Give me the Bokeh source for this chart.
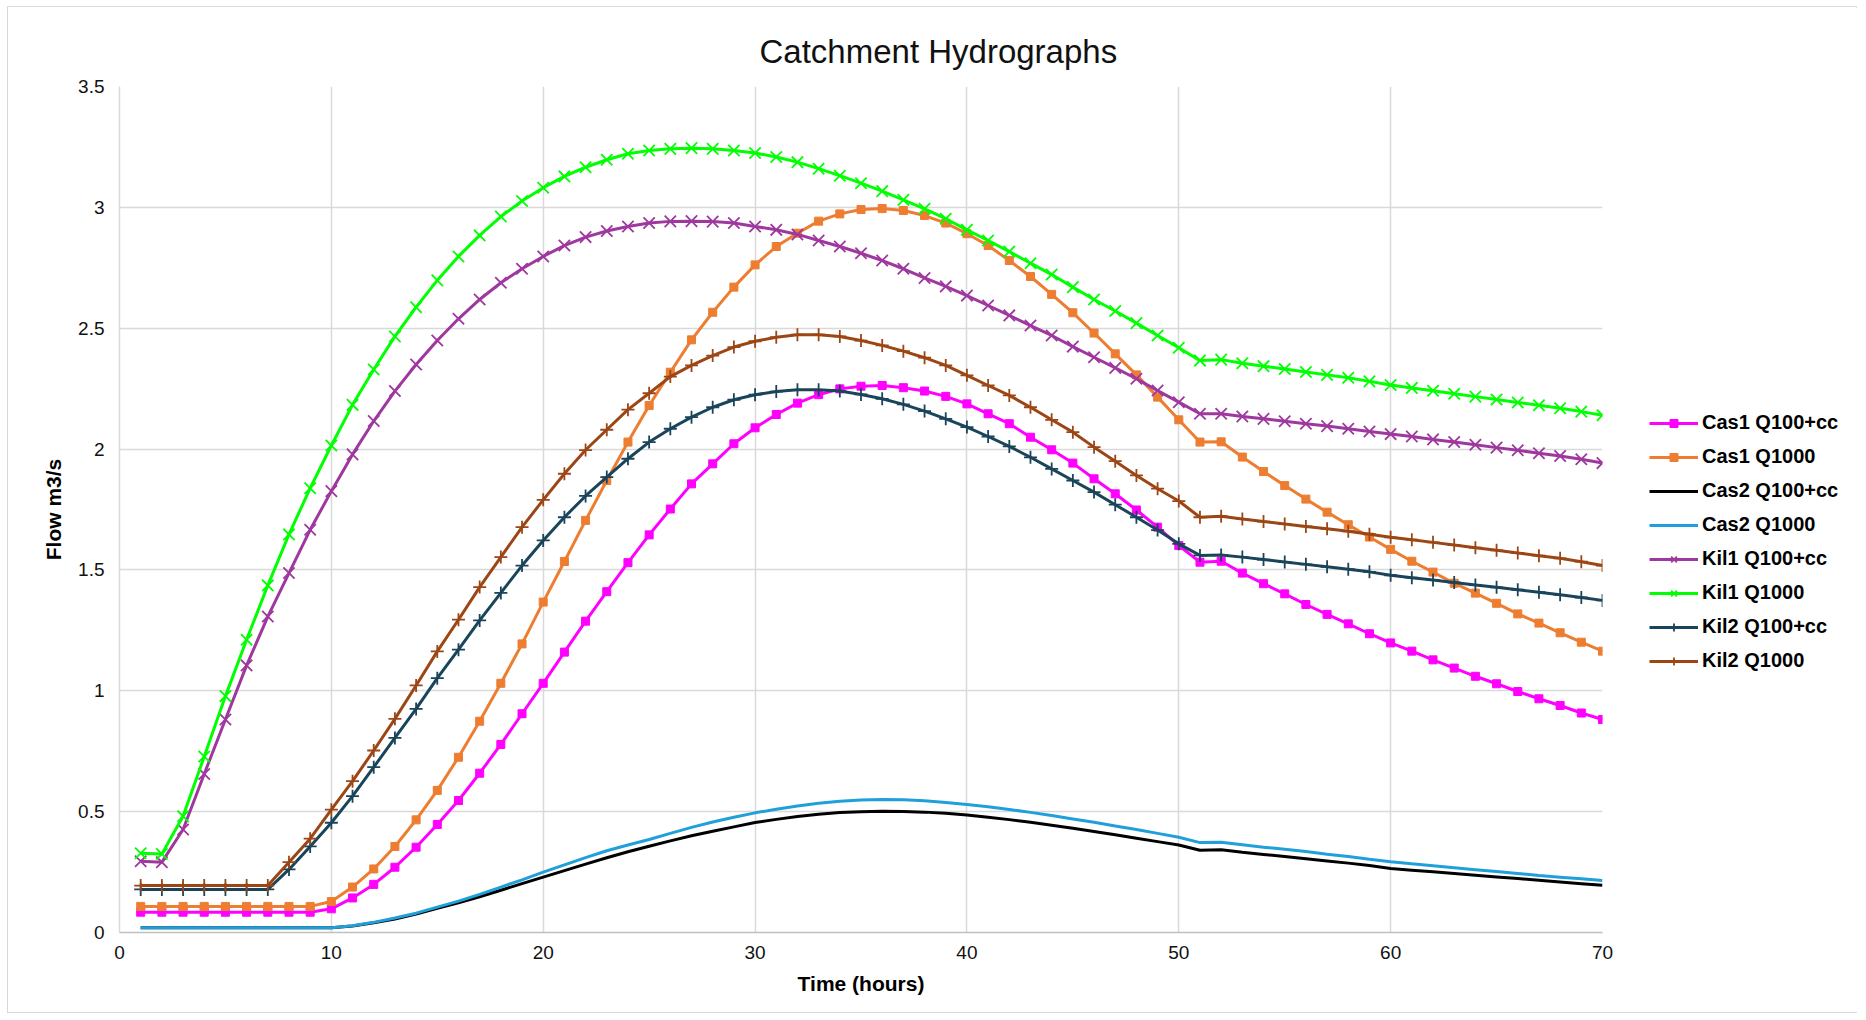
from bokeh.plotting import figure
from bokeh.layouts import row
from bokeh.models import Legend, LegendItem, FixedTicker, NumeralTickFormatter, Range1d
from bokeh.embed import file_html
from bokeh.resources import INLINE

# ---------------- data ----------------
hours = list(range(1, 71))

x_ticks = [0, 10, 20, 30, 40, 50, 60, 70]
y_ticks = [0, 0.5, 1, 1.5, 2, 2.5, 3, 3.5]

series_names = ["Cas1 Q100+cc", "Cas1 Q1000", "Cas2 Q100+cc", "Cas2 Q1000",
                "Kil1 Q100+cc", "Kil1 Q1000", "Kil2 Q100+cc", "Kil2 Q1000"]

cas1_q100cc = [0.084, 0.084, 0.084, 0.084, 0.084, 0.084, 0.084, 0.084, 0.084, 0.098,
               0.143, 0.199, 0.270, 0.353, 0.447, 0.546, 0.659, 0.778, 0.905, 1.031,
               1.160, 1.288, 1.410, 1.530, 1.645, 1.752, 1.856, 1.939, 2.022, 2.088,
               2.143, 2.190, 2.225, 2.249, 2.260, 2.263, 2.254, 2.240, 2.218, 2.187,
               2.146, 2.105, 2.049, 1.997, 1.942, 1.877, 1.815, 1.748, 1.677, 1.601,
               1.532, 1.536, 1.487, 1.443, 1.401, 1.357, 1.316, 1.277, 1.236, 1.198,
               1.164, 1.128, 1.094, 1.060, 1.029, 0.997, 0.967, 0.939, 0.908, 0.881]

cas1_q1000 = [0.108, 0.108, 0.108, 0.108, 0.108, 0.108, 0.108, 0.108, 0.108, 0.128,
              0.188, 0.263, 0.356, 0.466, 0.588, 0.725, 0.874, 1.031, 1.194, 1.367,
              1.535, 1.705, 1.870, 2.029, 2.180, 2.318, 2.452, 2.566, 2.670, 2.762,
              2.838, 2.893, 2.943, 2.973, 2.991, 2.995, 2.987, 2.966, 2.935, 2.891,
              2.842, 2.780, 2.714, 2.640, 2.564, 2.480, 2.394, 2.307, 2.215, 2.121,
              2.029, 2.030, 1.967, 1.907, 1.849, 1.793, 1.739, 1.687, 1.636, 1.585,
              1.536, 1.491, 1.445, 1.404, 1.362, 1.318, 1.280, 1.240, 1.201, 1.164]

cas2_q100cc = [0.020, 0.020, 0.020, 0.020, 0.020, 0.020, 0.020, 0.020, 0.020, 0.020,
               0.027, 0.040, 0.056, 0.076, 0.100, 0.123, 0.148, 0.175, 0.202, 0.229,
               0.256, 0.283, 0.309, 0.334, 0.357, 0.379, 0.400, 0.419, 0.437, 0.455,
               0.468, 0.480, 0.489, 0.496, 0.500, 0.502, 0.501, 0.498, 0.493, 0.486,
               0.477, 0.467, 0.456, 0.444, 0.431, 0.418, 0.404, 0.390, 0.376, 0.362,
               0.340, 0.342, 0.332, 0.323, 0.314, 0.305, 0.296, 0.287, 0.277, 0.265,
               0.258, 0.251, 0.244, 0.237, 0.230, 0.223, 0.216, 0.209, 0.202, 0.195]

cas2_q1000 = [0.020, 0.020, 0.020, 0.020, 0.020, 0.020, 0.020, 0.020, 0.020, 0.020,
              0.028, 0.042, 0.060, 0.080, 0.105, 0.130, 0.158, 0.188, 0.218, 0.250,
              0.280, 0.310, 0.338, 0.362, 0.385, 0.410, 0.435, 0.457, 0.477, 0.495,
              0.510, 0.523, 0.535, 0.543, 0.548, 0.550, 0.549, 0.545, 0.538, 0.530,
              0.520, 0.509, 0.497, 0.484, 0.470, 0.456, 0.441, 0.426, 0.410, 0.394,
              0.372, 0.373, 0.363, 0.353, 0.344, 0.335, 0.324, 0.314, 0.303, 0.293,
              0.284, 0.276, 0.268, 0.260, 0.252, 0.244, 0.236, 0.229, 0.222, 0.215]

kil1_q100cc = [0.295, 0.291, 0.426, 0.656, 0.881, 1.105, 1.307, 1.487, 1.666, 1.826,
               1.978, 2.116, 2.240, 2.350, 2.449, 2.539, 2.619, 2.688, 2.746, 2.797,
               2.842, 2.877, 2.902, 2.921, 2.935, 2.942, 2.943, 2.941, 2.935, 2.921,
               2.907, 2.888, 2.863, 2.838, 2.810, 2.780, 2.746, 2.708, 2.673, 2.635,
               2.594, 2.553, 2.511, 2.470, 2.424, 2.380, 2.336, 2.291, 2.242, 2.194,
               2.146, 2.146, 2.135, 2.125, 2.115, 2.105, 2.095, 2.084, 2.073, 2.062,
               2.052, 2.040, 2.029, 2.018, 2.006, 1.995, 1.983, 1.971, 1.958, 1.942]

kil1_q1000 = [0.328, 0.325, 0.481, 0.728, 0.978, 1.211, 1.436, 1.647, 1.838, 2.015,
              2.183, 2.329, 2.466, 2.587, 2.698, 2.797, 2.884, 2.962, 3.026, 3.081,
              3.128, 3.166, 3.197, 3.222, 3.235, 3.242, 3.245, 3.242, 3.235, 3.225,
              3.208, 3.187, 3.160, 3.131, 3.100, 3.067, 3.031, 2.994, 2.953, 2.907,
              2.863, 2.817, 2.769, 2.722, 2.670, 2.619, 2.571, 2.521, 2.470, 2.419,
              2.366, 2.370, 2.355, 2.343, 2.331, 2.319, 2.307, 2.295, 2.280, 2.265,
              2.253, 2.241, 2.229, 2.217, 2.205, 2.193, 2.181, 2.169, 2.155, 2.140]

kil2_q100cc = [0.178, 0.178, 0.178, 0.178, 0.178, 0.178, 0.178, 0.261, 0.356, 0.454,
               0.564, 0.684, 0.805, 0.925, 1.052, 1.170, 1.291, 1.405, 1.518, 1.622,
               1.718, 1.806, 1.884, 1.960, 2.029, 2.084, 2.132, 2.173, 2.204, 2.225,
               2.238, 2.245, 2.245, 2.240, 2.226, 2.208, 2.185, 2.157, 2.125, 2.091,
               2.052, 2.011, 1.966, 1.918, 1.870, 1.822, 1.770, 1.718, 1.665, 1.608,
               1.560, 1.562, 1.553, 1.543, 1.533, 1.523, 1.513, 1.503, 1.492, 1.478,
               1.468, 1.458, 1.448, 1.438, 1.428, 1.418, 1.408, 1.397, 1.386, 1.374]

kil2_q1000 = [0.194, 0.194, 0.194, 0.194, 0.194, 0.194, 0.194, 0.291, 0.388, 0.508,
              0.626, 0.753, 0.884, 1.022, 1.163, 1.294, 1.429, 1.553, 1.677, 1.790,
              1.898, 1.996, 2.080, 2.163, 2.231, 2.300, 2.346, 2.387, 2.422, 2.446,
              2.463, 2.473, 2.473, 2.466, 2.449, 2.429, 2.405, 2.378, 2.346, 2.305,
              2.263, 2.222, 2.173, 2.121, 2.070, 2.008, 1.950, 1.891, 1.836, 1.785,
              1.718, 1.722, 1.711, 1.700, 1.690, 1.680, 1.670, 1.660, 1.648, 1.635,
              1.625, 1.614, 1.603, 1.592, 1.581, 1.570, 1.559, 1.548, 1.534, 1.518]

series_values = [cas1_q100cc, cas1_q1000, cas2_q100cc, cas2_q1000,
                 kil1_q100cc, kil1_q1000, kil2_q100cc, kil2_q1000]

# ---------------- styles ----------------
colors = ["#FF00FF", "#ED7D31", "#000000", "#1FA0DA",
          "#9E389E", "#00FF00", "#1A4459", "#9C4615"]
markers = ["square", "square", None, None, "x", "x", "cross", "cross"]
msizes = [8, 8, 0, 0, 16, 16, 13, 13]

FONT = "Liberation Sans"
H = 1005

p = figure(width=1641, height=H, output_backend="svg", toolbar_location=None,
           x_range=Range1d(0, 70), y_range=Range1d(0, 3.5),
           min_border_left=111, min_border_right=47, min_border_top=79,
           min_border_bottom=80, title="Catchment Hydrographs")
p.outline_line_color = None
p.background_fill_color = "white"
p.border_fill_color = "white"

p.title.text_font = FONT
p.title.text_font_size = "33px"
p.title.text_font_style = "normal"
p.title.text_color = "#111111"
p.title.align = "left"
p.title.offset = 640
p.title.standoff = 34

p.xaxis.ticker = FixedTicker(ticks=x_ticks)
p.yaxis.ticker = FixedTicker(ticks=y_ticks)
p.xgrid.ticker = FixedTicker(ticks=x_ticks)
p.ygrid.ticker = FixedTicker(ticks=y_ticks)
p.yaxis.formatter = NumeralTickFormatter(format="0.[0]")
p.xaxis.formatter = NumeralTickFormatter(format="0")

for g in (p.xgrid, p.ygrid):
    g.grid_line_color = "#D9D9D9"
    g.grid_line_width = 1.5

for ax in (p.xaxis, p.yaxis):
    ax.major_tick_line_color = None
    ax.minor_tick_line_color = None
    ax.major_label_text_font = FONT
    ax.major_label_text_font_size = "19px"
    ax.major_label_text_color = "#111111"
    ax.axis_label_text_font = FONT
    ax.axis_label_text_font_size = "21px"
    ax.axis_label_text_font_style = "bold"
    ax.axis_label_text_color = "#000000"
p.xaxis.axis_line_color = "#BFBFBF"
p.xaxis.axis_line_width = 1.5
p.yaxis.axis_line_color = "#D9D9D9"
p.yaxis.axis_line_width = 1.5
p.xaxis.axis_label = "Time (hours)"
p.yaxis.axis_label = "Flow m3/s"
p.xaxis.major_label_standoff = 7
p.yaxis.major_label_standoff = 9
p.xaxis.axis_label_standoff = 10
p.yaxis.axis_label_standoff = 10

# legend panel: a second, axis-less figure to the right of the plot area.
# Its ranges exclude the data, so its renderers only serve as legend glyphs.
pl = figure(width=1850 - 1641, height=H, output_backend="svg", toolbar_location=None,
            x_range=Range1d(-3, -2), y_range=Range1d(-3, -2),
            min_border_left=0, min_border_right=0, min_border_top=0, min_border_bottom=0)
pl.xaxis.visible = False
pl.yaxis.visible = False
pl.xgrid.visible = False
pl.ygrid.visible = False
pl.outline_line_color = None
pl.background_fill_color = "white"
pl.border_fill_color = "white"

items = []
for name, vals, col, mk, ms in zip(series_names, series_values, colors, markers, msizes):
    p.line(hours, vals, line_color=col, line_width=3)
    rends = [pl.line(hours, vals, line_color=col, line_width=3)]
    if mk is not None:
        if mk == "square":
            kw = dict(marker=mk, size=ms, fill_color=col, line_color=col, line_width=1)
        else:
            kw = dict(marker=mk, size=ms, fill_color=None, line_color=col, line_width=1.8)
        p.scatter(hours, vals, **kw)
        rends.append(pl.scatter(hours, vals, **kw))
    items.append(LegendItem(label=name, renderers=rends))

legend = Legend(items=items, location=(0, 260), orientation="vertical",
                border_line_color=None, background_fill_alpha=0, padding=0, margin=0,
                spacing=11, glyph_width=49, glyph_height=20, label_height=20,
                label_standoff=4, label_text_font=FONT, label_text_font_size="20px",
                label_text_font_style="bold", label_text_color="#000000")
pl.add_layout(legend, "center")

layout = row(p, pl, spacing=0)
layout.styles = {"border": "1px solid #D9D9D9", "margin-left": "7px", "margin-top": "6px",
                 "width": "1850px"}

with open("out.html", "w") as f:
    f.write(file_html(layout, INLINE))
